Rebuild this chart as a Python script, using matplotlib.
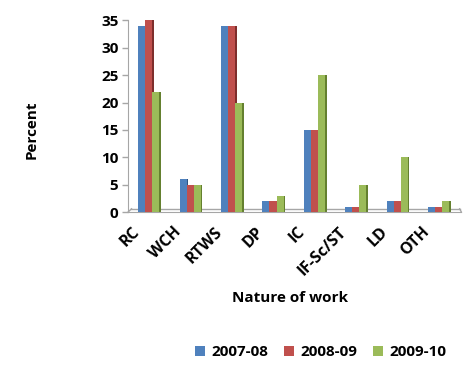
import matplotlib
matplotlib.use("Agg")
import matplotlib.pyplot as plt
import matplotlib.transforms as mtransforms
from matplotlib.patches import Patch
import numpy as np

categories = ["RC", "WCH", "RTWS", "DP", "IC", "IF-Sc/ST", "LD", "OTH"]
series_names = ["2007-08", "2008-09", "2009-10"]
vals_2007 = [34, 6, 34, 2, 15, 1, 2, 1]
vals_2008 = [35, 5, 34, 2, 15, 1, 2, 1]
vals_2009 = [22, 5, 20, 3, 25, 5, 10, 2]
y_ticks = [0, 5, 10, 15, 20, 25, 30, 35]

face_colors = ["#4F81BD", "#C0504D", "#9BBB59"]
side_colors = ["#2F5380", "#7E2E2C", "#64802F"]

plt.rcParams["font.family"] = ["Open Sans", "DejaVu Sans"]
plt.rcParams["font.weight"] = "bold"

fig = plt.figure(figsize=(4.66, 3.72), dpi=100)
ax = fig.add_axes([0.275, 0.430, 0.715, 0.515])

x = np.arange(len(categories))
bw = 0.17
side = 0.045
all_vals = [vals_2007, vals_2008, vals_2009]
for i, (vals, fc, sc) in enumerate(zip(all_vals, face_colors, side_colors)):
    pos = x + (i - 1) * bw
    # darker right face for a shaded 3-D look
    ax.bar(pos + bw / 2 + side / 2 - 0.005, vals, width=side, color=sc,
           linewidth=0, zorder=2)
    ax.bar(pos, vals, width=bw, color=fc, linewidth=0, zorder=3)

ax.set_xlim(-0.5, 7.55)
ax.set_ylim(0, 35)
ax.set_yticks(y_ticks)
ax.set_yticklabels([str(t) for t in y_ticks], fontsize=11, fontweight="bold")

# category labels, slanted and shifted left of each group
ax.set_xticks(x)
ax.set_xticklabels([])
ax.tick_params(axis="x", length=0)
offset = mtransforms.ScaledTranslation(-17 / 100, -12 / 100, fig.dpi_scale_trans)
label_tf = ax.get_xaxis_transform() + offset
for xi, lab in zip(x, categories):
    ax.text(xi, 0, lab, transform=label_tf, rotation=45, ha="right", va="top",
            rotation_mode="anchor", fontsize=11.5, fontweight="bold",
            clip_on=False)
ax.tick_params(axis="y", length=4, color="#A6A6A6", width=1, pad=3)

for s in ["top", "right"]:
    ax.spines[s].set_visible(False)
ax.spines["left"].set_color("#A6A6A6")
ax.spines["bottom"].set_color("#A6A6A6")

# floor back edge
ax.plot([0.01, 0.995], [0.017, 0.017], transform=ax.transAxes, color="#A6A6A6",
        lw=1, clip_on=False, zorder=1)
ax.plot([0.0, 0.01], [0.0, 0.017], transform=ax.transAxes, color="#A6A6A6",
        lw=1, clip_on=False, zorder=1)
ax.plot([0.995, 1.0], [0.017, 0.0], transform=ax.transAxes, color="#A6A6A6",
        lw=1, clip_on=False, zorder=1)

fig.text(0.068, 0.65, "Percent", rotation=90, ha="center", va="center",
         fontsize=11, fontweight="bold")
fig.text(0.622, 0.198, "Nature of work", ha="center", va="center",
         fontsize=11, fontweight="bold")

handles = [Patch(facecolor=c, edgecolor="none") for c in face_colors]
fig.legend(handles, series_names, loc="center", bbox_to_anchor=(0.688, 0.053),
           ncol=3, frameon=False, handlelength=0.7,
           handleheight=0.7, handletextpad=0.4, columnspacing=1.0,
           prop={"weight": "bold", "size": 11})

fig.savefig("out.png", dpi=100, facecolor="white")
